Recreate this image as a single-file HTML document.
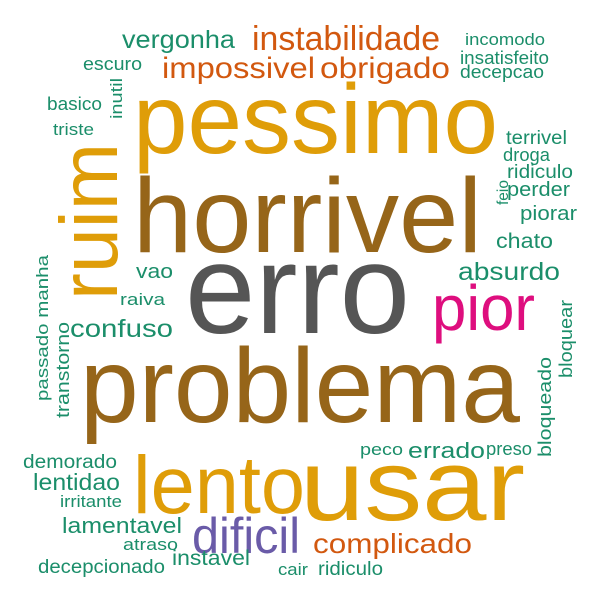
<!DOCTYPE html>
<html><head><meta charset="utf-8"><title>Word cloud</title>
<style>html,body{margin:0;padding:0;background:#fff;}svg{display:block;}text{font-family:"Liberation Sans",Arial,sans-serif;}</style>
</head><body>
<svg id="cloud" width="600" height="600" viewBox="0 0 600 600" xmlns="http://www.w3.org/2000/svg">
<rect width="600" height="600" fill="#fff"/>
</svg>
<script>
const words=["erro","horrivel","pessimo","problema","lento","usar","ruim","pior","dificil","instabilidade","impossivel","obrigado","vergonha","complicado","absurdo","confuso","lentidao","lamentavel","instavel","errado","chato","piorar","perder","ridiculo","droga","terrivel","feio","incomodo","insatisfeito","decepcao","escuro","basico","triste","inutil","vao","raiva","passado manha","transtorno","demorado","irritante","atraso","decepcionado","cair","ridiculo","peco","preso","bloqueado","bloquear"];
const freqs=[127,106,98,106,82,101,82,64,50,34,30,30,25,28,25,25,23,22,21,22,21,20,20,19,18,19,16,17,18,18,18,18,17,17,20,17,17,18,19,17,17,19,17,19,17,18,18,18];
const G="#1b8e6a",O="#d2580f",Y="#df9d08",B="#966519",K="#555555",P="#de0e7e",V="#6a5ba8";
const layout=[
[185,333,225,0,K],[133,252,349,0,B],[133,153,365,0,Y],[80,422,440,0,B],[133,513,172,0,Y],[300,520,225,0,Y],
[117,300,157,1,Y],[432,330,103,0,P],[192,553,108,0,V],[252,50,188,0,O],[162,78,153,0,O],[320,78,130,0,O],
[122,48,113,0,G],[313,553,159,0,O],[458,280,102,0,G],[70,337,103,0,G],[33,490,87,0,G],[62,533,120,0,G],
[172,565,78,0,G],[408,458,77,0,G],[496,248,57,0,G],[520,220,57,0,G],[507,196,63,0,G],[507,178,66,0,G],
[503,161,47,0,G],[506,144,61,0,G],[508,205,25,1,G],[465,45,80,0,G],[460,64,89,0,G],[460,78,84,0,G],
[83,70,59,0,G],[47,110,55,0,G],[53,135,41,0,G],[122,119,41,1,G],[136,278,37,0,G],[120,305,45,0,G],
[48,401,146,1,G],[69,418,96,1,G],[23,468,94,0,G],[60,507,62,0,G],[123,550,55,0,G],[38,573,127,0,G],
[278,575,30,0,G],[318,575,65,0,G],[360,455,43,0,G],[486,455,46,0,G],[551,457,100,1,G],[572,378,78,1,G]
];
const svg=document.getElementById('cloud');
const NS="http://www.w3.org/2000/svg";
words.forEach((w,i)=>{
  const L=layout[i];
  const t=document.createElementNS(NS,'text');
  
  
  t.setAttribute('x',L[0]);t.setAttribute('y',L[1]);
  t.setAttribute('font-size',freqs[i]);
  t.setAttribute('fill',L[4]);
  t.setAttribute('textLength',L[2]);
  t.setAttribute('lengthAdjust','spacingAndGlyphs');
  if(L[3])t.setAttribute('transform','rotate(-90 '+L[0]+' '+L[1]+')');
  t.textContent=w;
  svg.appendChild(t);
});
</script>
</body></html>
